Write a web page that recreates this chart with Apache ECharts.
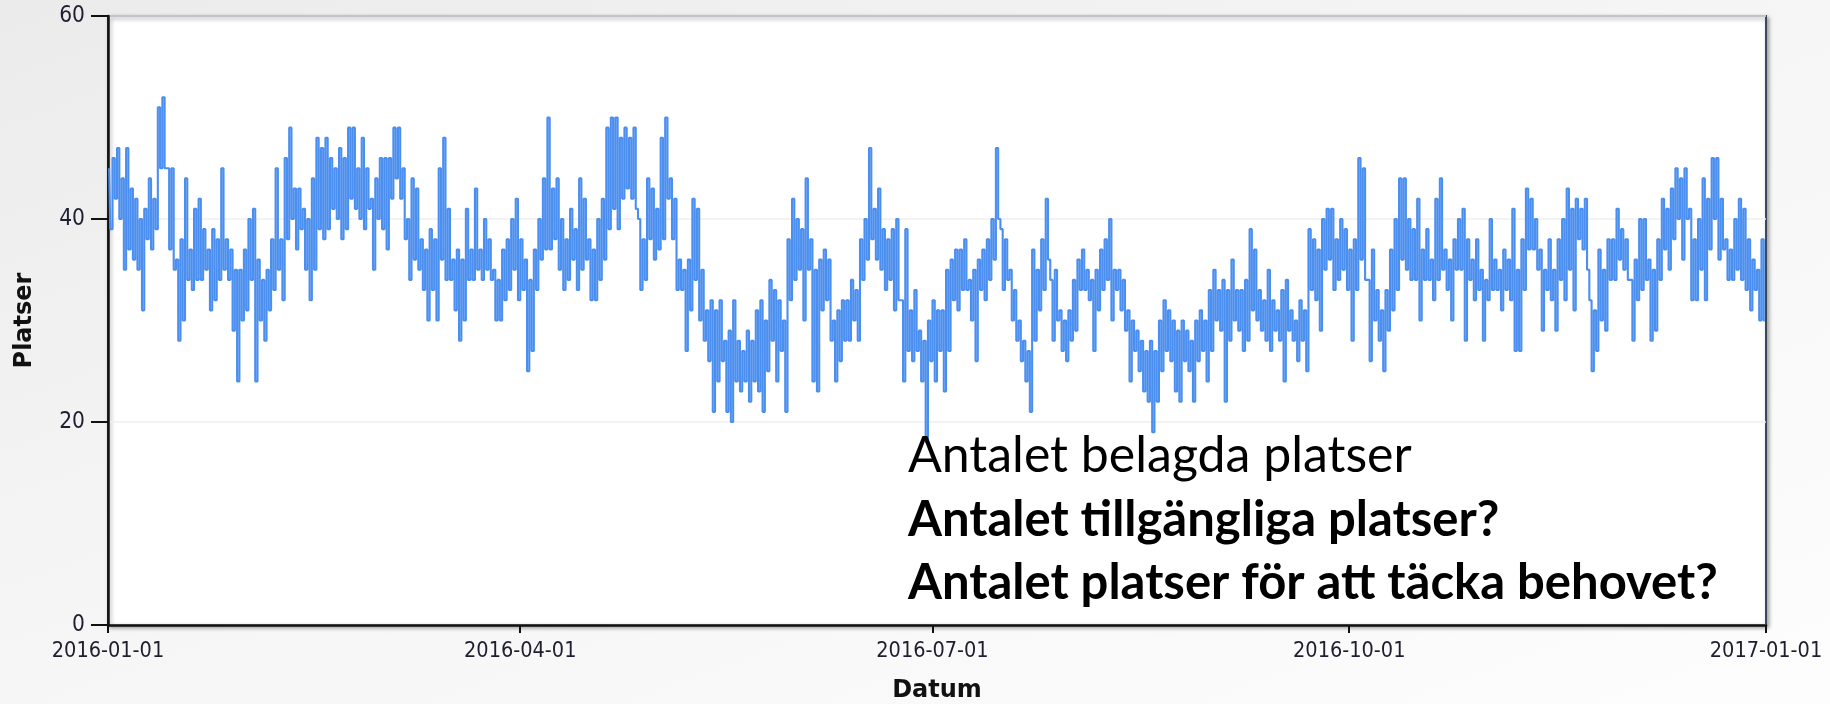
<!DOCTYPE html>
<html lang="sv">
<head>
<meta charset="utf-8">
<title>Platser 2016</title>
<script src="https://cdn.jsdelivr.net/npm/echarts@6/dist/echarts.min.js"></script>
<style>
  html, body { margin: 0; padding: 0; }
  body {
    width: 1830px; height: 704px; overflow: hidden;
    background: linear-gradient(160deg, #ebebeb 0%, #f5f5f5 45%, #fdfdfd 100%);
  }
  #chart { width: 1830px; height: 704px; }
</style>
</head>
<body>
<div id="chart"></div>
<script>
// Belagda platser per dag 2016: dagens högsta och lägsta värde, ett kvartal per lista
const q1Max = [45,46,47,44,47,43,42,40,41,44, 42,51,52,45,45,36,38,44,37,41,
  42,39,37,39,38,45,38,37,35,35, 37,40,41,36,34,35,38,45,38,46,
  49,43,43,41,40,44,48,47,48,46, 45,47,46,49,49,45,48,45,42,44,
  46,46,46,49,49,45,40,44,43,38, 37,39,38,45,48,41,36,37,36,41,
  37,43,37,40,38,35,34,37,38,40, 42];
const q1Min = [39,42,40,35,37,36,35,31,38,37, 39,45,45,37,35,28,30,34,33,34,
  34,35,31,32,34,35,34,29,24,30, 31,34,24,30,28,31,33,35,32,38,
  40,37,39,35,32,35,39,38,39,41, 40,38,39,42,41,40,39,41,35,40,
  39,37,42,44,42,38,34,36,35,33, 30,33,30,36,34,34,31,28,30,34,
  34,35,34,35,34,30,30,32,33,35, 32];

const q2Max = [38,36,34,37,40,44,50,43,44,40, 38,41,39,44,42,38,37,40,42,49,
  50,50,48,49,48,49,40,38,44,43, 41,48,50,44,42,36,35,36,42,41,
  35,31,32,31,32,28,29,32,28,27, 29,28,31,32,30,34,33,32,30,38,
  42,40,39,44,38,35,36,37,36,30, 31,32,32,34,33,38,40,47,41,43,
  39,38,39,40,32,39,31,33,29,28, 30];
const q2Min = [33,25,27,33,36,37,37,38,35,33, 34,36,33,35,36,32,32,34,36,39,
  41,39,42,43,42,41,33,34,38,36, 37,38,42,38,33,33,27,31,34,30,
  28,26,21,24,26,21,20,24,23,24, 22,24,23,21,25,28,24,27,21,32,
  34,35,30,35,24,23,31,32,28,24, 26,28,28,30,28,34,36,38,36,35,
  33,34,31,32,24,27,26,27,24,18, 26];

const q3Max = [32,31,31,35,36,37,37,38,34,35, 36,37,38,40,47,39,38,35,33,30,
  28,27,37,35,38,42,34,35,31,30, 31,34,36,37,35,34,35,37,38,40,
  35,35,34,31,30,29,28,27,28,27, 30,32,31,30,29,30,29,28,30,31,
  30,33,35,33,34,33,36,33,33,34, 39,37,33,32,35,32,31,33,34,31,
  30,32,31,39,38,37,40,41,41,38, 40,39];
const q3Min = [24,27,23,27,32,31,33,33,30,26, 33,32,34,36,40,33,34,30,28,26,
  24,21,28,31,33,36,28,30,27,26, 28,29,33,33,32,27,31,33,34,30,
  33,31,29,24,27,25,23,22,19,22, 25,27,26,23,22,26,25,22,26,27,
  24,27,30,29,22,28,30,29,27,28, 31,30,29,28,27,29,28,24,29,28,
  26,28,25,33,32,29,35,36,33,34, 35,33];

const q4Max = [37,38,46,45,34,37,33,31,33,37, 40,44,44,40,39,42,37,39,36,42,
  44,37,36,38,40,41,38,36,38,35, 34,40,36,35,37,36,41,35,38,43,
  42,40,37,35,38,35,38,40,43,41, 42,41,42,32,31,37,35,38,38,41,
  39,38,34,36,40,40,36,35,38,42, 41,43,45,44,45,41,38,40,44,42,
  46,46,42,38,37,40,42,41,38,36, 35,38];
const q4Min = [28,33,36,34,26,30,28,25,29,31, 33,36,35,34,34,30,34,34,32,34,
  35,33,30,35,35,28,34,32,33,28, 32,33,33,31,33,32,27,27,33,37,
  37,35,29,33,32,29,34,32,35,31, 38,37,35,25,27,30,29,34,34,36,
  35,34,28,32,33,34,28,29,34,37, 35,38,40,36,40,32,32,35,32,37,
  40,36,37,34,34,35,34,33,31,33, 30,30];

// Datum för x-axelns markeringar
const tickDates = ['2016-01-01', '2016-04-01', '2016-07-01', '2016-10-01', '2017-01-01'];
const yTicks = [0, 20, 40, 60];

const dagMax = [].concat(q1Max, q2Max, q3Max, q4Max);
const dagMin = [].concat(q1Min, q2Min, q3Min, q4Min);

function parseDate(s) {
  const p = s.split('-').map(Number);
  return new Date(p[0], p[1] - 1, p[2]).getTime();
}
function pad(n) { return (n < 10 ? '0' : '') + n; }
function fmtDate(v) {
  const d = new Date(v);
  return d.getFullYear() + '-' + pad(d.getMonth() + 1) + '-' + pad(d.getDate());
}

const HOUR = 3600 * 1000;
const tickValues = tickDates.map(parseDate);

// Två mätpunkter per dygn: högsta värdet på förmiddagen, lägsta på eftermiddagen
const points = [];
for (let i = 0; i < dagMax.length; i++) {
  const day = new Date(2016, 0, 1 + i).getTime();
  points.push([day + 6 * HOUR, dagMax[i]]);
  points.push([day + 18 * HOUR, dagMin[i]]);
}

const tickFont = "'DejaVu Sans Condensed', 'Liberation Sans', sans-serif";
const textLeft = 908;

const chart = echarts.init(document.getElementById('chart'), null, { renderer: 'canvas' });
chart.setOption({
  animation: false,
  backgroundColor: 'transparent',
  grid: {
    left: 108, right: 64, top: 16, bottom: 79,
    outerBoundsMode: 'none',
    containLabel: false,
    show: true,
    backgroundColor: '#ffffff',
    borderColor: '#3a4a5e',
    borderWidth: 2,
    shadowColor: 'rgba(0,0,0,0.35)',
    shadowBlur: 4,
    shadowOffsetX: 2,
    shadowOffsetY: 2
  },
  xAxis: {
    type: 'value',
    min: tickValues[0],
    max: tickValues[tickValues.length - 1],
    name: 'Datum',
    nameLocation: 'middle',
    nameGap: 54,
    nameTextStyle: { fontFamily: 'DejaVu Sans', fontWeight: 'bold', fontSize: 24, color: '#111' },
    axisLine: { show: true, lineStyle: { color: '#111', width: 2.5 } },
    axisTick: { show: true, customValues: tickValues, length: 8, lineStyle: { color: '#111', width: 2 } },
    axisLabel: {
      customValues: tickValues,
      formatter: fmtDate,
      margin: 15,
      fontFamily: tickFont,
      fontSize: 21.5,
      color: '#1e1e30',
      showMinLabel: true,
      showMaxLabel: true,
      hideOverlap: false
    },
    splitLine: { show: false }
  },
  yAxis: {
    type: 'value',
    min: yTicks[0],
    max: yTicks[yTicks.length - 1],
    interval: yTicks[1] - yTicks[0],
    name: 'Platser',
    nameLocation: 'middle',
    nameGap: 71,
    nameRotate: 90,
    nameTextStyle: { fontFamily: 'DejaVu Sans', fontWeight: 'bold', fontSize: 24, color: '#111' },
    axisLine: { show: true, lineStyle: { color: '#111', width: 2.5 } },
    axisTick: { show: true, length: 17, lineStyle: { color: '#111', width: 2 } },
    axisLabel: { margin: 23, fontFamily: tickFont, fontSize: 22.5, color: '#1e1e30' },
    splitLine: { show: true, lineStyle: { color: '#efefef', width: 1.5 } }
  },
  series: [{
    type: 'line',
    step: 'middle',
    data: points,
    showSymbol: false,
    symbol: 'none',
    lineStyle: { color: '#4a8ef0', width: 2.1 },
    clip: true,
    z: 2
  }],
  graphic: [
    { type: 'text', x: textLeft, y: 456, z: 10,
      style: { text: 'Antalet belagda platser', font: '50px Lato', fill: '#000', verticalAlign: 'middle' } },
    { type: 'text', x: textLeft, y: 520, z: 10,
      style: { text: 'Antalet tillgängliga platser?', font: 'bold 49px Lato', fill: '#000', verticalAlign: 'middle' } },
    { type: 'text', x: textLeft, y: 583, z: 10,
      style: { text: 'Antalet platser för att täcka behovet?', font: 'bold 49px Lato', fill: '#000', verticalAlign: 'middle' } }
  ]
});
</script>
</body>
</html>
